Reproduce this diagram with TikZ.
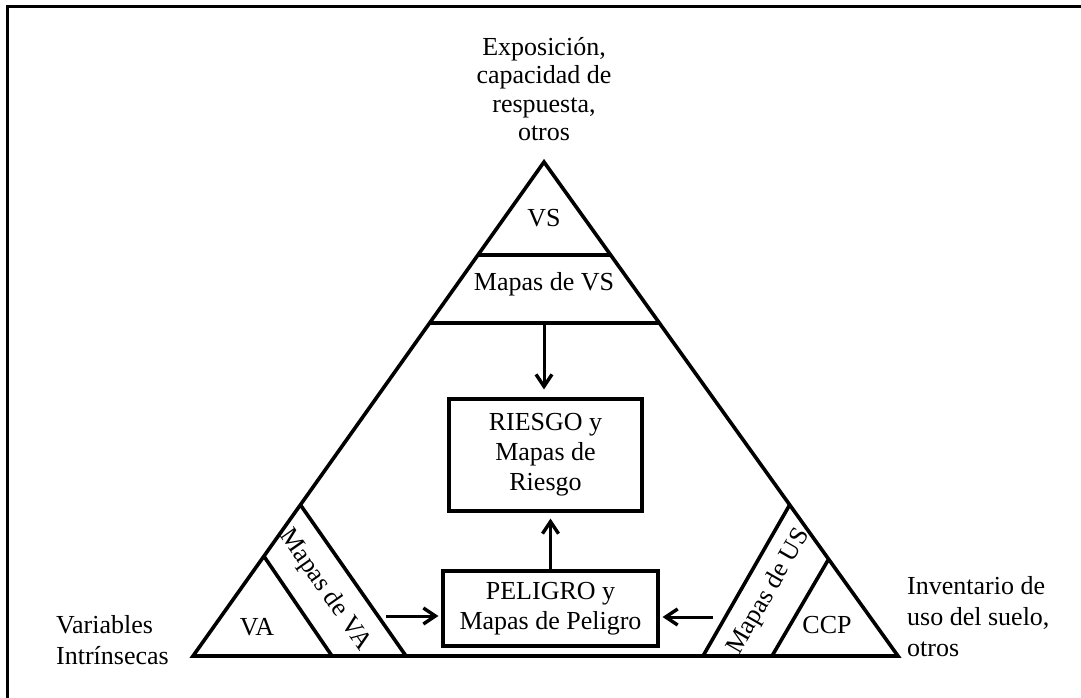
\documentclass[tikz,border=0pt]{standalone}
\usepackage{fontspec}
\setmainfont{Liberation Serif}
\usetikzlibrary{arrows.meta, calc}

\begin{document}
\begin{tikzpicture}[x=1pt,y=-1pt,
    txt/.style={font=\fontsize{26}{31}\selectfont, inner sep=0pt, align=center},
    caja/.style={draw, line width=3.2pt, inner sep=0pt, font=\fontsize{26}{30}\selectfont, align=center},
    linea/.style={line width=3.6pt},
    flecha/.style={line width=3pt, -{Straight Barb[length=12pt,width=16pt,line width=3.4pt]}}
    ]
    \useasboundingbox (0,0) rectangle (1081,698);
    \draw[line width=3pt] (7,698) -- (7,7) -- (1081,7);

    \coordinate (top) at (544,162);
    \coordinate (bl) at (193,656);
    \coordinate (br) at (898,656);
    \draw[linea] (top) -- (bl) -- (br) -- cycle;
    \draw[linea] ($(top)!0.188!(bl)$) -- ($(top)!0.188!(br)$);
    \draw[linea] ($(top)!0.326!(bl)$) -- ($(top)!0.326!(br)$);
    \draw[linea] ($(top)!0.798!(bl)$) -- (332,656);
    \draw[linea] ($(top)!0.694!(bl)$) -- (406,656);
    \draw[linea] ($(top)!0.694!(br)$) -- (703,656);
    \draw[linea] ($(top)!0.804!(br)$) -- (772,656);

    \node[txt, font=\fontsize{26}{28.5}\selectfont] at (544,89) (expo) {Exposición,\\capacidad de\\respuesta,\\otros};
    \node[txt] at (544,218) (vs) {VS};
    \node[txt] at (544,284) (mvs) {Mapas de VS};
    \node[caja, minimum width=193pt, minimum height=112pt] at (545.5,455) (riesgo) {RIESGO y\\Mapas de\\Riesgo};
    \node[caja, minimum width=215pt, minimum height=75pt] at (550.5,608.5) (peligro) {PELIGRO y\\Mapas de Peligro};
    \node[txt] at (257,627) (va) {VA};
    \node[txt, rotate=-55] at (325,590) (mva) {Mapas de VA};
    \node[txt] at (827,625) (ccp) {CCP};
    \node[txt, rotate=60] at (769,592) (mus) {Mapas de US};
    \node[txt, align=left, anchor=west] at (56,640) (vi) {Variables\\Intrínsecas};
    \node[txt, align=left, anchor=west] at (907,617) (inv) {Inventario de\\uso del suelo,\\otros};

    \coordinate (vsbase) at (544,323);
    \coordinate (vaend) at (386,616);
    \coordinate (usend) at (713,617);
    \draw[flecha, shorten >=8pt] (vsbase) -- (vsbase |- riesgo.north);
    \draw[flecha, shorten >=6pt] (peligro.north) -- (peligro.north |- riesgo.south);
    \draw[flecha, shorten >=3pt] (vaend) -- (vaend -| peligro.west);
    \draw[flecha, shorten >=3pt] (usend) -- (usend -| peligro.east);
\end{tikzpicture}
\end{document}
